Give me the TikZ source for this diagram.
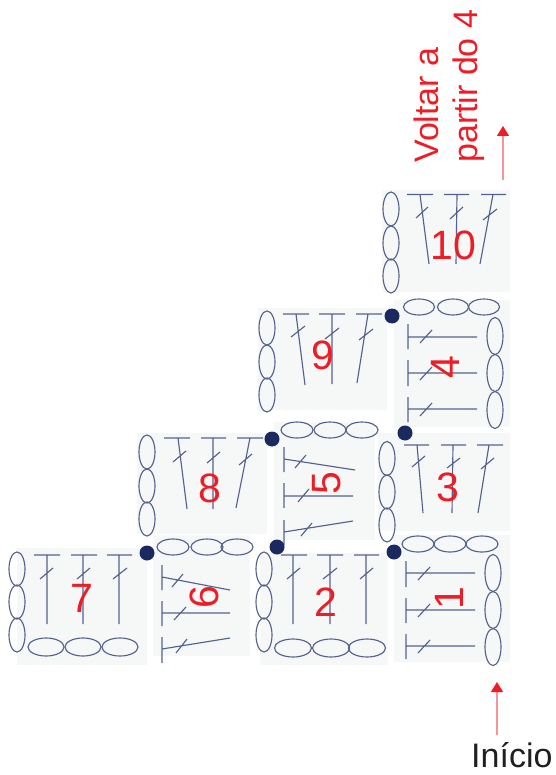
\documentclass[tikz,border=0pt]{standalone}
\usepackage{fontspec}
\setmainfont{Liberation Sans}
\usetikzlibrary{arrows.meta}
\definecolor{ln}{HTML}{55628E}
\definecolor{bgc}{HTML}{F6F8F8}
\definecolor{dotc}{HTML}{1B2A5E}
\definecolor{rd}{HTML}{EE1C25}
\definecolor{pk}{HTML}{F7939A}
\tikzset{
 panel/.style={fill=bgc,draw=none},
 ov/.style={draw=ln,line width=1.15pt,fill=none},
 st/.style={draw=ln,line width=1.15pt},
 dotn/.style={circle,fill=dotc,minimum size=15pt,inner sep=0pt},
 num/.style={text=rd,font=\fontsize{41}{41}\selectfont,inner sep=0pt},
 numr/.style={num,rotate=90},
 lab/.style={text=rd,font=\fontsize{34}{34}\selectfont,inner sep=0pt,rotate=90,anchor=base west},
 arr/.style={draw=pk,line width=1.3pt,-{Triangle[length=10pt,width=12pt,color=rd]}},
}
% vertical oval chain: x, ry, list of y
\newcommand{\vov}[3]{\foreach \yy in {#3} {\draw[ov] (#1,\yy) ellipse[x radius=8,y radius=#2];}}
% horizontal oval chain: y, rx, ry, list of x
\newcommand{\hov}[4]{\foreach \xx in {#4} {\draw[ov] (\xx,#1) ellipse[x radius=#2,y radius=#3];}}
% upright stitch: x1,x2,ybar,xtop,xbot,ybot,slash
\newcommand{\ust}[7]{\draw[st] (#1,#3) -- (#2,#3) (#4,#3) -- (#5,#6) #7;}
% sideways stitch: xbar,y1,y2,ystart,xend,yend,slash
\newcommand{\sst}[7]{\draw[st] (#1,#2) -- (#1,#3) (#1,#4) -- (#5,#6) #7;}
\begin{document}
\begin{tikzpicture}[x=1pt,y=-1pt]
\useasboundingbox (0,0) rectangle (555,775);
% panels
\fill[panel] (382,190) rectangle (510,292);
\fill[panel] (394,300) rectangle (510,427);
\fill[panel] (378,433) rectangle (510,531);
\fill[panel] (394,535) rectangle (510,662);
\fill[panel] (258,308) rectangle (387,410);
\fill[panel] (137,433) rectangle (267,534);
\fill[panel] (274,422) rectangle (375,540);
\fill[panel] (17,548) rectangle (147,665);
\fill[panel] (153,535) rectangle (250,656);
\fill[panel] (260,553) rectangle (388,665);
% 10
\vov{391}{17}{209,243,276}
\ust{407}{433}{194.5}{420}{429}{264}{(416,218) -- (428,207)}
\ust{444}{469}{194.5}{457}{456}{264}{(450,219) -- (463,207)}
\ust{481}{506}{194.5}{493}{480}{264}{(483,220) -- (497,209)}
% 4
\hov{307}{15.5}{8}{419,453,484}
\vov{495}{18.5}{336,373,410}
\sst{408}{324}{349}{337}{477}{337}{(420,343) -- (432,330)}
\sst{408}{360}{386}{373}{477}{373}{(420,380) -- (432,367)}
\sst{408}{397}{422}{409}{477}{409}{(420,416) -- (432,403)}
% 3
\vov{387}{17}{458.5,492,525}
\ust{404}{429}{445}{417}{423}{513}{(412,467) -- (425,456)}
\ust{441}{466}{445}{453}{452}{513}{(447,468) -- (460,458)}
\ust{477}{503}{445}{489}{478}{513}{(481,469) -- (494,458)}
% 1
\hov{544}{16}{8}{418,450,482}
\vov{493}{18.5}{573,610,647}
\sst{406}{561}{587}{573}{475}{573}{(418,580) -- (430,567)}
\sst{406}{598}{623}{610}{475}{610}{(418,617) -- (430,604)}
\sst{406}{634}{659}{646}{475}{646}{(418,653) -- (430,640)}
% 9
\vov{267}{17}{328,362,395}
\ust{283}{309}{314}{296}{305}{385}{(291,337) -- (305,326)}
\ust{319}{345}{314}{332}{332}{384}{(325,339) -- (339,328)}
\ust{356}{382}{314}{368}{357}{383}{(359,340) -- (373,329)}
% 8
\vov{147}{17}{452,486,519}
\ust{164}{190}{438}{178}{187}{509}{(173,462) -- (186,451)}
\ust{201}{226}{438}{213}{213}{509}{(207,463) -- (220,452)}
\ust{237}{263}{438}{250}{236}{508}{(239,465) -- (252,454)}
% 5
\hov{430}{16}{8}{297,330,362}
\sst{284}{447}{472}{459}{355}{470}{(295,468) -- (306,455)}
\sst{284}{483}{508}{496}{353}{496}{(298,502) -- (309,489)}
\sst{284}{520}{545}{532}{353}{521}{(301,536) -- (312,523)}
% 7
\vov{17}{17}{569,602,635}
\hov{647}{18}{9}{46,83,120}
\ust{34}{60}{555}{47}{47}{624}{(40,579) -- (53,568)}
\ust{71}{97}{555}{83}{83}{624}{(77,579) -- (90,568)}
\ust{107}{132}{555}{119}{119}{624}{(113,579) -- (127,568)}
% 6
\hov{547}{16}{8}{173,207,237}
\sst{162}{565}{590}{577}{230}{590}{(172,587) -- (183,574)}
\sst{162}{601}{626}{613}{230}{613}{(174,620) -- (186,607)}
\sst{162}{637}{663}{649}{230}{638}{(176,653) -- (187,639)}
% 2
\vov{264}{17}{569,602,635}
\hov{648}{18.5}{9}{293,331,367}
\ust{281}{307}{555}{293}{293}{624}{(287,579) -- (300,568)}
\ust{317}{343}{555}{330}{330}{624}{(323,579) -- (337,568)}
\ust{354}{379}{555}{366}{366}{624}{(360,579) -- (373,568)}
% dots
\node[dotn] (d1) at (392,316) {};
\node[dotn] (d2) at (405,433) {};
\node[dotn] (d3) at (394,552) {};
\node[dotn] (d4) at (277,547) {};
\node[dotn] (d5) at (272,439) {};
\node[dotn] (d6) at (147,553) {};
% numbers
\node[num] (n10) at (453,245) {10};
\node[numr] (n4) at (445,367) {4};
\node[num] (n3) at (448,487) {3};
\node[numr] (n1) at (449,598) {1};
\node[num] (n9) at (323,355) {9};
\node[num] (n8) at (210,488) {8};
\node[numr] (n5) at (327,483) {5};
\node[num] (n7) at (82,598) {7};
\node[numr] (n6) at (204,597) {6};
\node[num] (n2) at (326,602) {2};
% labels
\node[lab] (volta) at (438,163) {Voltar a};
\node[lab] (parte) at (477,163) {partir do 4};
\node[anchor=base west,inner sep=0pt,text=black!88,font=\fontsize{34}{34}\selectfont] (inicio) at (471,767) {Início};
% arrows
\coordinate (a1s) at (503,180);
\coordinate (a1e) at (503,126);
\coordinate (a2s) at (497,735);
\coordinate (a2e) at (497,682);
\draw[arr] (a1s) -- (a1e);
\draw[arr] (a2s) -- (a2e);
\end{tikzpicture}
\end{document}
